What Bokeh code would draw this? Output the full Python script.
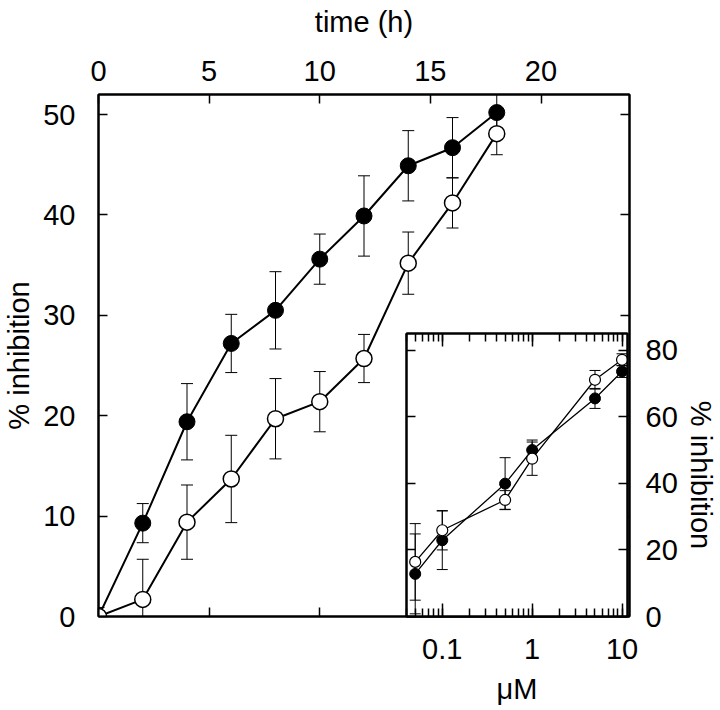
import numpy as np
from bokeh.plotting import figure
from bokeh.models import (ColumnDataSource, Whisker, TeeHead, LinearAxis, LogAxis, Range1d,
                          SingleIntervalTicker, LogTicker, LogTickFormatter, GridBox)
from bokeh.embed import file_html
from bokeh.resources import INLINE

# ---------------- data ----------------
time_h = [0, 2, 4, 6, 8, 10, 12, 14, 16, 18]
filled_pct = [0, 9.3, 19.4, 27.2, 30.5, 35.6, 39.9, 44.9, 46.7, 50.2]
filled_err = [0, 1.95, 3.8, 2.9, 3.85, 2.5, 4.0, 3.5, 3.0, 1.8]
open_pct = [0, 1.7, 9.4, 13.7, 19.7, 21.4, 25.7, 35.2, 41.2, 48.1]
open_err = [0.9, 4.0, 3.7, 4.35, 4.0, 3.0, 2.4, 3.1, 2.5, 2.1]

conc_uM = [0.05, 0.1, 0.5, 1, 5, 10]
inset_filled = [12.8, 22.9, 39.9, 50.0, 65.5, 73.6]
inset_filled_err = [12.0, 8.8, 7.8, 3.0, 3.0, 1.8]
inset_open = [16.4, 25.9, 35.0, 47.4, 71.1, 77.1]
inset_open_err = [11.5, 5.9, 2.8, 5.0, 2.8, 1.8]

FONT = "Liberation Sans"
TICK_FS = "29px"
LABEL_FS = "29px"


def src(x, y, e):
    y = np.asarray(y, float)
    e = np.asarray(e, float)
    return ColumnDataSource(dict(x=x, y=y, lo=y - e, hi=y + e))


def style_axis(ax, labels=True, tick_in=9, minor_in=0):
    ax.axis_line_width = 2
    ax.axis_line_color = "black"
    ax.major_tick_in = tick_in
    ax.major_tick_out = 0
    ax.major_tick_line_width = 1.5
    ax.major_tick_line_color = "black"
    if minor_in:
        ax.minor_tick_in = minor_in
        ax.minor_tick_out = 0
        ax.minor_tick_line_width = 1.5
        ax.minor_tick_line_color = "black"
    else:
        ax.minor_tick_line_color = None
    if labels:
        ax.major_label_text_font = FONT
        ax.major_label_text_font_size = TICK_FS
        ax.major_label_text_color = "black"
        ax.axis_label_text_font = FONT
        ax.axis_label_text_font_size = LABEL_FS
        ax.axis_label_text_font_style = "normal"
        ax.axis_label_text_color = "black"
    else:
        ax.major_label_text_font_size = "10px"
        ax.major_label_text_color = None
        ax.major_label_standoff = 0
        ax.axis_label = None


def add_series(fig, s_f, s_o, size, lw, cap, err_lw, open_lw):
    for s in (s_f, s_o):
        fig.add_layout(Whisker(base="x", lower="lo", upper="hi", source=s,
                               line_color="black", line_width=err_lw,
                               upper_head=TeeHead(size=cap, line_width=err_lw, line_color="black"),
                               lower_head=TeeHead(size=cap, line_width=err_lw, line_color="black")))
    fig.line("x", "y", source=s_f, line_color="black", line_width=lw)
    fig.line("x", "y", source=s_o, line_color="black", line_width=lw)
    fig.scatter("x", "y", source=s_f, size=size, fill_color="black", line_color="black", line_width=1)
    fig.scatter("x", "y", source=s_o, size=size, fill_color="white", line_color="black",
                line_width=open_lw)


# ---------------- main plot ----------------
p = figure(frame_width=531, frame_height=522, x_range=Range1d(0, 24), y_range=Range1d(0, 52),
           x_axis_location="above", output_backend="svg", toolbar_location=None,
           min_border_left=96, min_border_top=94, min_border_right=85, min_border_bottom=40)
p.frame_align = False
p.grid.visible = False
p.outline_line_color = "black"
p.outline_line_width = 2

add_series(p, src(time_h, filled_pct, filled_err), src(time_h, open_pct, open_err),
           size=16, lw=2, cap=12, err_lw=1, open_lw=1.5)

p.xaxis.ticker = SingleIntervalTicker(interval=5)
p.yaxis.ticker = SingleIntervalTicker(interval=10)
p.xaxis.axis_label = "time (h)"
p.yaxis.axis_label = "% inhibition"
style_axis(p.xaxis[0])
style_axis(p.yaxis[0])
p.xaxis.major_label_standoff = 10
p.xaxis.axis_label_standoff = 20
p.yaxis.major_label_standoff = 19
p.yaxis.axis_label_standoff = 5

bx = LinearAxis(ticker=SingleIntervalTicker(interval=5))
style_axis(bx, labels=False)
p.add_layout(bx, "below")
ry = LinearAxis(ticker=SingleIntervalTicker(interval=10))
style_axis(ry, labels=False)
p.add_layout(ry, "right")

# ---------------- inset ----------------
q = figure(frame_width=221, frame_height=283, x_axis_type="log",
           x_range=Range1d(0.04, 11.5), y_range=Range1d(0, 85),
           y_axis_location="right", output_backend="svg", toolbar_location=None,
           min_border_left=40, min_border_top=40, min_border_right=92, min_border_bottom=90,
           background_fill_color="white", border_fill_color=None,
           margin=(293, 0, 0, 366))
q.frame_align = False
q.grid.visible = False
q.outline_line_color = "black"
q.outline_line_width = 2

add_series(q, src(conc_uM, inset_filled, inset_filled_err), src(conc_uM, inset_open, inset_open_err),
           size=11, lw=1.3, cap=11, err_lw=1, open_lw=1.2)

q.xaxis.ticker = LogTicker(mantissas=[1], num_minor_ticks=10)
q.xaxis.formatter = LogTickFormatter(min_exponent=3)
q.yaxis.ticker = SingleIntervalTicker(interval=20)
q.xaxis.axis_label = "\u03bcM"
q.yaxis.axis_label = "% inhibition"
style_axis(q.xaxis[0], tick_in=13, minor_in=8)
style_axis(q.yaxis[0], tick_in=9)
q.xaxis.major_label_standoff = 22
q.xaxis.axis_label_standoff = 11
q.yaxis.major_label_standoff = 14
q.yaxis.axis_label_standoff = 4

tx = LogAxis(ticker=LogTicker(mantissas=[1], num_minor_ticks=10),
             formatter=LogTickFormatter(min_exponent=10))
style_axis(tx, labels=False, tick_in=13, minor_in=8)
q.add_layout(tx, "above")
ly = LinearAxis(ticker=SingleIntervalTicker(interval=20))
style_axis(ly, labels=False, tick_in=9)
q.add_layout(ly, "left")

layout = GridBox(children=[(p, 0, 0), (q, 0, 0)])

open("out.html", "w").write(file_html(layout, INLINE))
